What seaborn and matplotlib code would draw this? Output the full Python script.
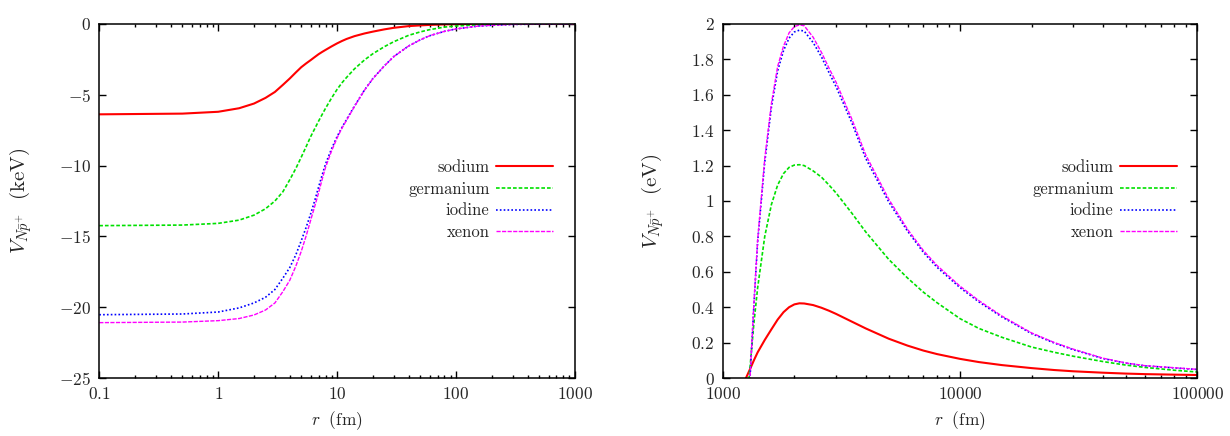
import numpy as np
import pandas as pd
import matplotlib
matplotlib.use("Agg")
import matplotlib.pyplot as plt
import seaborn as sns
from matplotlib.ticker import LogLocator, NullFormatter, NullLocator


# ---------------------------------------------------
# Data
# ---------------------------------------------------
# left panel: r (fm) and potential (keV)
r_left = [0.1, 0.5, 1, 1.5, 2, 2.5, 3, 3.5, 4, 4.5, 5, 5.5, 6, 6.5, 7, 7.5, 8, 9,
          10, 11, 12, 14, 17, 20, 25, 30, 40, 50, 60, 80, 100, 150, 200, 300,
          500, 1000]
sodium_kev = [-6.38, -6.33, -6.2, -5.95, -5.62, -5.22, -4.8, -4.3, -3.85, -3.42,
              -3.05, -2.78, -2.55, -2.33, -2.13, -1.97, -1.83, -1.58, -1.37, -1.2,
              -1.06, -0.86, -0.67, -0.54, -0.38, -0.27, -0.15, -0.1, -0.065,
              -0.03, -0.015, -0.005, 0, 0, 0, 0]
germanium_kev = [-14.24, -14.2, -14.08, -13.85, -13.5, -13.05, -12.5, -11.85,
                 -11.0, -10.2, -9.4, -8.65, -7.95, -7.38, -6.85, -6.38, -5.95,
                 -5.22, -4.62, -4.15, -3.78, -3.17, -2.54, -2.1, -1.6, -1.25,
                 -0.8, -0.56, -0.4, -0.22, -0.14, -0.06, -0.03, -0.01, 0, 0]
iodine_kev = [-20.53, -20.48, -20.34, -20.05, -19.7, -19.3, -18.75, -17.95, -17.2,
              -16.3, -15.3, -14.35, -13.4, -12.45, -11.5, -10.65, -9.88, -8.8,
              -7.95, -7.3, -6.75, -5.8, -4.66, -3.85, -2.95, -2.3, -1.55, -1.12,
              -0.83, -0.52, -0.35, -0.16, -0.09, -0.03, -0.01, 0]
xenon_kev = [-21.09, -21.05, -20.95, -20.8, -20.55, -20.2, -19.7, -18.9, -18.1,
             -17.1, -16.05, -14.95, -13.85, -12.85, -11.9, -10.95, -10.12, -8.95,
             -8.05, -7.35, -6.8, -5.83, -4.68, -3.86, -2.96, -2.3, -1.55, -1.12,
             -0.83, -0.52, -0.35, -0.16, -0.09, -0.03, -0.01, 0]

# right panel: r (fm) and potential (eV)
r_right = [1250, 1300, 1350, 1400, 1500, 1600, 1700, 1800, 1900, 2000, 2100, 2200,
           2400, 2600, 2800, 3000, 3500, 4000, 5000, 6000, 7000, 8000, 10000,
           12000, 15000, 20000, 25000, 30000, 40000, 50000, 60000, 80000, 100000]
sodium_ev = [0.0, 0.05, 0.1, 0.145, 0.215, 0.275, 0.33, 0.372, 0.4, 0.416, 0.422,
             0.421, 0.412, 0.397, 0.38, 0.362, 0.318, 0.28, 0.222, 0.183, 0.155,
             0.135, 0.108, 0.09, 0.073, 0.056, 0.045, 0.038, 0.03, 0.025, 0.022,
             0.019, 0.017]
germanium_ev = [-0.2, 0.06, 0.31, 0.51, 0.8, 0.98, 1.09, 1.155, 1.19, 1.203, 1.205,
                1.2, 1.17, 1.135, 1.09, 1.045, 0.93, 0.825, 0.67, 0.565, 0.485,
                0.425, 0.335, 0.28, 0.23, 0.175, 0.145, 0.123, 0.093, 0.073,
                0.06, 0.044, 0.034]
iodine_ev = [-0.45, 0.0, 0.41, 0.77, 1.22, 1.53, 1.735, 1.85, 1.92, 1.955, 1.965,
             1.96, 1.895, 1.815, 1.725, 1.645, 1.44, 1.24, 0.995, 0.83, 0.71, 0.625,
             0.51, 0.43, 0.345, 0.251, 0.197, 0.16, 0.11, 0.084, 0.069, 0.057,
             0.048]
xenon_ev = [-0.45, 0.0, 0.42, 0.78, 1.24, 1.55, 1.76, 1.875, 1.95, 1.985, 1.995,
            1.99, 1.925, 1.84, 1.75, 1.67, 1.46, 1.26, 1.01, 0.84, 0.72, 0.635,
            0.518, 0.437, 0.35, 0.255, 0.2, 0.163, 0.112, 0.085, 0.07, 0.058, 0.049]

elements = ["sodium", "germanium", "iodine", "xenon"]

left_xticks = [0.1, 1, 10, 100, 1000]
left_xticklabels = ["$0.1$", "$1$", "$10$", "$100$", "$1000$"]
left_yticks = [0, -5, -10, -15, -20, -25]
left_yticklabels = ["$0$", "$-5$", "$-10$", "$-15$", "$-20$", "$-25$"]

right_xticks = [1000, 10000, 100000]
right_xticklabels = ["$1000$", "$10000$", "$100000$"]
right_yticks = [0, 0.2, 0.4, 0.6, 0.8, 1, 1.2, 1.4, 1.6, 1.8, 2]
right_yticklabels = ["$0$", "$0.2$", "$0.4$", "$0.6$", "$0.8$", "$1$", "$1.2$",
                     "$1.4$", "$1.6$", "$1.8$", "$2$"]


#%% STYLE
sns.set_style("ticks")
plt.rcParams['font.family'] = ['cmr10', 'DejaVu Serif']
plt.rcParams['mathtext.fontset'] = 'cm'
plt.rcParams['axes.formatter.use_mathtext'] = True
TEXT = "#262626"

colors = {"sodium": "#ff0000", "germanium": "#00e000",
          "iodine": "#0000ff", "xenon": "#ff00ff"}
styles = {"sodium": "-", "germanium": (0, (2.2, 1.2)),
          "iodine": (0, (1, 1.3)), "xenon": (0, (3, 1))}
widths = {"sodium": 1.5, "germanium": 1.2, "iodine": 1.2, "xenon": 1.0}

df_left = pd.DataFrame({"r": r_left, "sodium": sodium_kev,
                        "germanium": germanium_kev, "iodine": iodine_kev,
                        "xenon": xenon_kev})
df_right = pd.DataFrame({"r": r_right, "sodium": sodium_ev,
                         "germanium": germanium_ev, "iodine": iodine_ev,
                         "xenon": xenon_ev})

fig = plt.figure(figsize=(12.3, 4.36), dpi=100)
ax_l = fig.add_axes([0.0807, 0.133, 0.3867, 0.812])
ax_r = fig.add_axes([0.5878, 0.133, 0.3856, 0.812])


def draw(ax, df, xlim, ylim, xticks, xticklabels, yticks, yticklabels, unit,
         leg_anchor):
    for name in elements:
        sns.lineplot(data=df, x="r", y=name, ax=ax, color=colors[name],
                     linestyle=styles[name], linewidth=widths[name],
                     label=name, sort=False)
    ax.set_xscale("log")
    ax.set_xlim(*xlim)
    ax.set_ylim(*ylim)
    ax.set_xticks(xticks)
    ax.set_xticklabels(xticklabels)
    ax.xaxis.set_minor_locator(LogLocator(base=10, subs=np.arange(2, 10)))
    ax.xaxis.set_minor_formatter(NullFormatter())
    ax.set_yticks(yticks)
    ax.set_yticklabels(yticklabels)
    ax.yaxis.set_minor_locator(NullLocator())
    ax.tick_params(which="both", direction="in", top=True, right=True,
                   colors="black", labelcolor=TEXT, labelsize=12.5, width=1.0)
    ax.tick_params(which="major", length=5, pad=6)
    ax.tick_params(which="minor", length=2.5)
    for s in ax.spines.values():
        s.set_linewidth(1.1)
        s.set_color("black")
    ax.set_xlabel(r"$r\ \ (\mathrm{fm})$", color=TEXT, fontsize=12.5,
                  labelpad=5)
    ax.set_ylabel(r"$V_{N\bar{p}^{+}}\ \ (\mathrm{" + unit + "})$", color=TEXT,
                  fontsize=15, labelpad=18)
    leg = ax.legend(loc="center right", bbox_to_anchor=leg_anchor,
                    frameon=False, markerfirst=False, handlelength=3.4,
                    handletextpad=0.4, labelspacing=0.38, borderpad=0,
                    borderaxespad=0, fontsize=12)
    for t in leg.get_texts():
        t.set_color(TEXT)


draw(ax_l, df_left, (0.1, 1000), (-25, 0), left_xticks, left_xticklabels,
     left_yticks, left_yticklabels, "keV", (0.954, 0.503))
draw(ax_r, df_right, (1000, 100000), (0, 2), right_xticks, right_xticklabels,
     right_yticks, right_yticklabels, "eV", (0.957, 0.503))

fig.savefig("out.png", dpi=100)
